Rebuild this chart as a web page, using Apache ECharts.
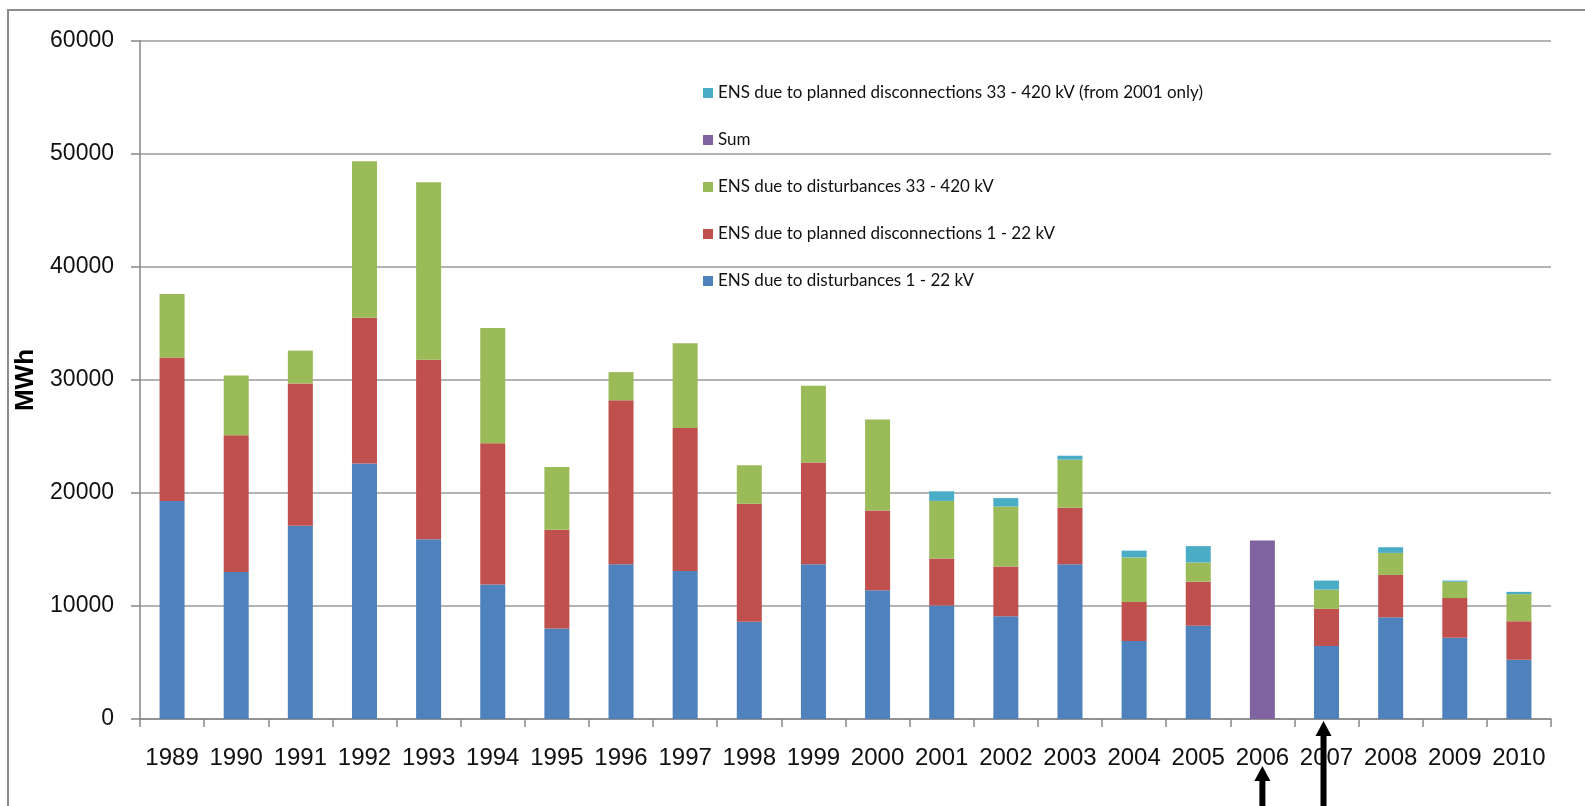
<!DOCTYPE html>
<html>
<head>
<meta charset="utf-8">
<script src="https://cdn.jsdelivr.net/npm/echarts@6/dist/echarts.min.js"></script>
<style>
  html, body { margin: 0; padding: 0; background: #fff; }
  #frame { position: absolute; left: 7px; top: 9px; width: 1600px; height: 820px; border: 2px solid #8c8c8c; box-sizing: border-box; }
  #chart { position: absolute; left: 0; top: 0; width: 1585px; height: 806px; }
</style>
</head>
<body>
<div id="frame"></div>
<div id="chart"></div>
<script>
const years = ['1989', '1990', '1991', '1992', '1993', '1994', '1995', '1996', '1997', '1998', '1999',
    '2000', '2001', '2002', '2003', '2004', '2005', '2006', '2007', '2008', '2009', '2010'];

// MWh
const distLow = [19300, 13000, 17100, 22600, 15900, 11900, 8000, 13700, 13100, 8600, 13700,
    11400, 10050, 9100, 13700, 6900, 8250, '-', 6450, 9000, 7200, 5250];
const plannedLow = [12700, 12100, 12600, 12900, 15900, 12500, 8750, 14500, 12650, 10450, 9000,
    7050, 4150, 4400, 5000, 3450, 3900, '-', 3300, 3750, 3500, 3400];
const distHigh = [5600, 5300, 2900, 13850, 15700, 10200, 5550, 2500, 7500, 3400, 6800,
    8050, 5100, 5300, 4250, 3950, 1700, '-', 1700, 1950, 1450, 2400];
const sumOnly = ['-', '-', '-', '-', '-', '-', '-', '-', '-', '-', '-',
    '-', '-', '-', '-', '-', '-', 15800, '-', '-', '-', '-'];
const plannedHigh = ['-', '-', '-', '-', '-', '-', '-', '-', '-', '-', '-',
    '-', 850, 750, 350, 600, 1450, '-', 800, 500, 100, 200];

const names = [
    'ENS due to disturbances 1 - 22 kV',
    'ENS due to planned disconnections 1 - 22 kV',
    'ENS due to disturbances 33 - 420 kV',
    'Sum',
    'ENS due to planned disconnections 33 - 420 kV (from 2001 only)'
];
const colors = ['#4F81BD', '#C0504D', '#9BBB59', '#8064A2', '#4BACC6'];
const values = [distLow, plannedLow, distHigh, sumOnly, plannedHigh];

const chart = echarts.init(document.getElementById('chart'));

const series = values.map((v, i) => ({
    name: names[i],
    type: 'bar',
    stack: 'total',
    barWidth: 25,
    data: v,
    itemStyle: { color: colors[i] }
}));

chart.setOption({
    animation: false,
    color: colors,
    grid: { left: 140, right: 34, top: 41, bottom: 87 },
    legend: {
        orient: 'vertical',
        left: 703,
        top: 83,
        padding: 0,
        itemWidth: 10,
        itemHeight: 10,
        itemGap: 27,
        icon: 'rect',
        data: [names[4], names[3], names[2], names[1], names[0]],
        textStyle: {
            fontFamily: 'Lato, "Liberation Sans", sans-serif',
            fontSize: 17,
            lineHeight: 20,
            color: '#111'
        }
    },
    xAxis: {
        type: 'category',
        data: years,
        axisLine: { lineStyle: { color: '#868686', width: 1.5 } },
        axisTick: { show: true, length: 8, lineStyle: { color: '#868686', width: 1.5 } },
        axisLabel: {
            margin: 27,
            interval: 0,
            fontFamily: '"Liberation Sans", Arial, sans-serif',
            fontSize: 24,
            color: '#111'
        }
    },
    yAxis: {
        type: 'value',
        min: 0,
        max: 60000,
        interval: 10000,
        name: 'MWh',
        nameLocation: 'middle',
        nameRotate: 90,
        nameGap: 81,
        nameTextStyle: {
            fontFamily: '"Liberation Sans", Arial, sans-serif',
            fontSize: 26,
            fontWeight: 'bold',
            color: '#000'
        },
        axisLine: { show: true, lineStyle: { color: '#868686', width: 1.5 } },
        axisTick: { show: true, length: 9, inside: false, lineStyle: { color: '#868686', width: 1.5 } },
        splitLine: { lineStyle: { color: '#9a9a9a', width: 1.5 } },
        axisLabel: {
            margin: 26,
            formatter: (v) => String(v),
            fontFamily: '"Liberation Sans", Arial, sans-serif',
            fontSize: 23,
            color: '#111'
        }
    },
    series: series
});

// up-arrows under 2006 and 2007
function arrow(x, tipY, bottomY) {
    const hw = 8, sw = 3, hh = 15;
    return {
        type: 'polygon',
        shape: {
            points: [
                [x, tipY], [x + hw, tipY + hh], [x + sw, tipY + hh], [x + sw, bottomY],
                [x - sw, bottomY], [x - sw, tipY + hh], [x - hw, tipY + hh]
            ]
        },
        style: { fill: '#000' },
        z: 100
    };
}
const base = chart.convertToPixel({ yAxisIndex: 0 }, 0);
const x2006 = chart.convertToPixel({ xAxisIndex: 0 }, '2006');
const x2007 = chart.convertToPixel({ xAxisIndex: 0 }, '2007');
chart.setOption({
    graphic: [
        arrow(x2006, base + 47, 820),
        arrow(x2007 - 3, base + 2, 820)
    ]
});
</script>
</body>
</html>
